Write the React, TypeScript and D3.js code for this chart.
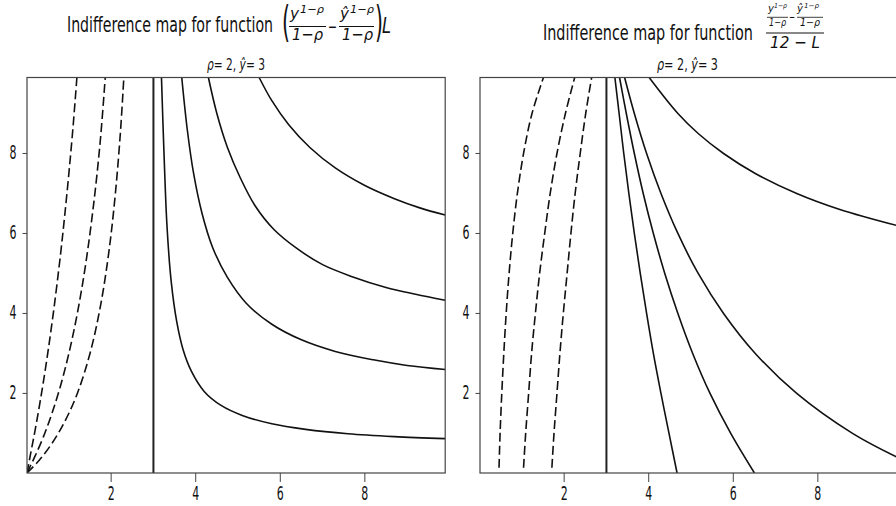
import * as d3 from "d3";

// axis ticks shared by both panels
const xTicks = [2, 4, 6, 8];
const yTicks = [2, 4, 6, 8];
const domain: [number, number] = [0.01, 9.9];
const neutralY = 3; // y-hat, the zero-utility line

// left panel: (y^(1-rho)/(1-rho) - yhat^(1-rho)/(1-rho)) L
const leftSolid: [number, number][][] = [
  [[3.19, 9.9], [3.25, 8.0], [3.32, 6.2], [3.42, 4.8], [3.55, 3.8], [3.7, 3.1], [3.9, 2.55], [4.2, 2.05], [4.6, 1.7], [5.1, 1.45], [5.8, 1.24], [6.6, 1.1], [7.6, 0.99], [8.7, 0.92], [9.9, 0.87]],
  [[3.67, 9.9], [3.8, 8.6], [3.95, 7.5], [4.15, 6.5], [4.4, 5.65], [4.75, 4.9], [5.2, 4.25], [5.8, 3.73], [6.5, 3.34], [7.3, 3.05], [8.2, 2.84], [9.0, 2.7], [9.9, 2.6]],
  [[4.3, 9.9], [4.5, 9.0], [4.75, 8.15], [5.05, 7.4], [5.4, 6.7], [5.85, 6.1], [6.4, 5.62], [7.0, 5.22], [7.7, 4.92], [8.5, 4.65], [9.2, 4.48], [9.9, 4.33]],
  [[5.5, 9.9], [5.8, 9.32], [6.2, 8.72], [6.7, 8.15], [7.3, 7.64], [8.0, 7.2], [8.7, 6.87], [9.3, 6.64], [9.9, 6.46]],
];
const leftDashed: [number, number][][] = [
  [[0.01, 0.01], [0.1, 0.52], [0.2, 1.07], [0.35, 1.98], [0.5, 3.0], [0.65, 4.15], [0.8, 5.45], [0.9, 6.43], [1.0, 7.5], [1.1, 8.68], [1.19, 9.9]],
  [[0.01, 0.01], [0.2, 0.43], [0.4, 0.92], [0.6, 1.5], [0.8, 2.18], [1.0, 3.0], [1.2, 4.0], [1.4, 5.25], [1.6, 6.86], [1.75, 8.4], [1.86, 9.9]],
  [[0.01, 0.01], [0.3, 0.33], [0.6, 0.75], [0.9, 1.29], [1.2, 2.0], [1.5, 3.0], [1.75, 4.2], [1.95, 5.57], [2.1, 7.0], [2.22, 8.54], [2.3, 9.9]],
];

// right panel: (y^(1-rho)/(1-rho) - yhat^(1-rho)/(1-rho)) / (12 - L)
const rightSolid: [number, number][][] = [
  [[4.67, 0.01], [4.48, 1], [4.29, 2], [4.11, 3], [3.95, 4], [3.8, 5], [3.66, 6], [3.53, 7], [3.41, 8], [3.3, 9], [3.2, 9.9]],
  [[6.5, 0.01], [5.94, 1], [5.45, 2], [5.04, 3], [4.69, 4], [4.38, 5], [4.11, 6], [3.87, 7], [3.66, 8], [3.47, 9], [3.31, 9.9]],
  [[9.9, 0.39], [8.82, 1], [7.5, 2], [6.52, 3], [5.77, 4], [5.17, 5], [4.69, 6], [4.29, 7], [3.95, 8], [3.66, 9], [3.43, 9.9]],
  [[9.9, 6.19], [8.52, 6.6], [7.5, 7], [6.52, 7.5], [5.77, 8], [5.17, 8.5], [4.69, 9], [4.01, 9.9]],
];
const rightDashed: [number, number][][] = [
  [[0.46, 0.14], [0.485, 1], [0.525, 2], [0.573, 3], [0.629, 4], [0.698, 5], [0.784, 6], [0.894, 7], [1.04, 8], [1.24, 9], [1.51, 9.9]],
  [[1.04, 0.14], [1.09, 1], [1.16, 2], [1.23, 3], [1.32, 4], [1.42, 5], [1.54, 6], [1.67, 7], [1.83, 8], [2.03, 9], [2.25, 9.9]],
  [[1.71, 0.14], [1.76, 1], [1.83, 2], [1.9, 3], [1.98, 4], [2.07, 5], [2.16, 6], [2.26, 7], [2.38, 8], [2.51, 9], [2.65, 9.9]],
];

const FONT = "DejaVu Sans";
const TOP = 77.5;
const BOTTOM = 473;
const PANEL_W = 418.2;

function Txt({ x, y, w, size, italic, children }: any) {
  return (
    <text
      x={x}
      y={y}
      fontSize={size}
      textLength={w}
      lengthAdjust="spacingAndGlyphs"
      fontStyle={italic ? "italic" : undefined}
      fill="#111"
    >
      {children}
    </text>
  );
}

function Panel({ id, left, solid, dashed }: any) {
  const x = d3.scaleLinear().domain(domain).range([left, left + PANEL_W]);
  const y = d3.scaleLinear().domain(domain).range([BOTTOM, TOP]);
  const line = d3
    .line<[number, number]>()
    .x((d) => x(d[0]))
    .y((d) => y(d[1]))
    .curve(d3.curveCatmullRom.alpha(0.5));

  return (
    <g>
      <defs>
        <clipPath id={id}>
          <rect x={left} y={TOP} width={PANEL_W} height={BOTTOM - TOP} />
        </clipPath>
      </defs>
      <g clipPath={`url(#${id})`} fill="none" stroke="#111" strokeWidth={1.6}>
        {dashed.map((pts: [number, number][], i: number) => (
          <path key={"d" + i} d={line(pts) || ""} strokeDasharray="9,4" />
        ))}
        {solid.map((pts: [number, number][], i: number) => (
          <path key={"s" + i} d={line(pts) || ""} />
        ))}
        <line x1={x(neutralY)} x2={x(neutralY)} y1={y(domain[0])} y2={y(domain[1])} stroke="#222" strokeWidth={2} />
      </g>
      <rect x={left} y={TOP} width={PANEL_W} height={BOTTOM - TOP} fill="none" stroke="#444" strokeWidth={1.2} />
      {xTicks.map((t) => (
        <g key={"x" + t}>
          <line x1={x(t)} x2={x(t)} y1={BOTTOM} y2={BOTTOM + 9} stroke="#444" strokeWidth={1} />
          <Txt x={x(t) - 3.5} y={500} w={7} size={20}>{t}</Txt>
        </g>
      ))}
      {yTicks.map((t) => (
        <g key={"y" + t}>
          <line x1={left - 4.5} x2={left} y1={y(t)} y2={y(t)} stroke="#444" strokeWidth={1} />
          <Txt x={left - 17.5} y={y(t) + 6} w={7} size={20}>{t}</Txt>
        </g>
      ))}
    </g>
  );
}

function Subtitle({ x, w }: any) {
  return (
    <text x={x} y={69.5} fontSize={15} textLength={w} lengthAdjust="spacingAndGlyphs" fill="#111">
      <tspan fontStyle="italic">ρ</tspan>= 2, <tspan fontStyle="italic">ŷ</tspan>= 3
    </text>
  );
}

export default function App() {
  return (
    <svg
      width={896}
      height={506}
      style={{ position: "absolute", left: 0, top: 0, background: "#fff" }}
      fontFamily={FONT}
    >
      <rect width={896} height={506} fill="#fff" />
      <Panel id="clipL" left={27} solid={leftSolid} dashed={leftDashed} />
      <Panel id="clipR" left={480} solid={rightSolid} dashed={rightDashed} />

      {/* left title */}
      <Txt x={67} y={32} w={206} size={21}>Indifference map for function</Txt>
      <Txt x={282} y={37} w={8} size={42}>(</Txt>
      <Txt x={290} y={19} w={9} size={16} italic>y</Txt>
      <Txt x={300} y={13} w={24} size={11} italic>1−ρ</Txt>
      <line x1={289} x2={326} y1={26.5} y2={26.5} stroke="#111" strokeWidth={1} />
      <Txt x={292} y={40} w={31} size={16} italic>1−ρ</Txt>
      <Txt x={328} y={33} w={9} size={18}>−</Txt>
      <Txt x={340} y={19} w={9} size={16} italic>ŷ</Txt>
      <Txt x={350} y={13} w={24} size={11} italic>1−ρ</Txt>
      <line x1={339} x2={374} y1={26.5} y2={26.5} stroke="#111" strokeWidth={1} />
      <Txt x={342} y={40} w={31} size={16} italic>1−ρ</Txt>
      <Txt x={375} y={37} w={8} size={42}>)</Txt>
      <Txt x={382} y={33} w={9} size={21} italic>L</Txt>
      <Subtitle x={207} w={58} />

      {/* right title */}
      <Txt x={543} y={40} w={210} size={21}>Indifference map for function</Txt>
      <Txt x={768} y={12} w={6} size={10} italic>y</Txt>
      <Txt x={774} y={8} w={13} size={7} italic>1−ρ</Txt>
      <line x1={767} x2={788} y1={17.3} y2={17.3} stroke="#111" strokeWidth={0.8} />
      <Txt x={769} y={26} w={17} size={10} italic>1−ρ</Txt>
      <Txt x={789} y={21} w={6} size={12}>−</Txt>
      <Txt x={797} y={12} w={6} size={10} italic>ŷ</Txt>
      <Txt x={804} y={8} w={15} size={7} italic>1−ρ</Txt>
      <line x1={797} x2={823} y1={17.3} y2={17.3} stroke="#111" strokeWidth={0.8} />
      <Txt x={800} y={26} w={20} size={10} italic>1−ρ</Txt>
      <line x1={766} x2={824} y1={33} y2={33} stroke="#111" strokeWidth={1} />
      <Txt x={770} y={47.5} w={50} size={16} italic>12 − L</Txt>
      <Subtitle x={657} w={61} />
    </svg>
  );
}
